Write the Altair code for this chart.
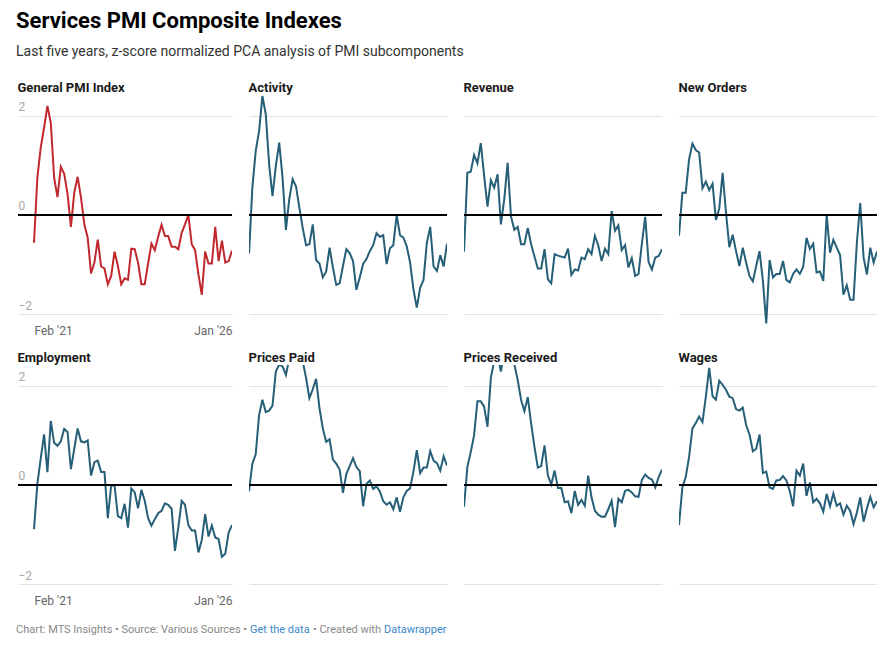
import altair as alt
import pandas as pd

# ---------------- data ----------------
x_tick_values = [0, 59]
x_tick_labels = ["Feb '21", "Jan '26"]
y_tick_values = [-2, 0, 2]

general_pmi = [-0.56, 0.75, 1.36, 1.76, 2.2, 1.86, 0.75, 0.36, 0.97, 0.83,
               0.42, -0.24, 0.45, 0.77, 0.35, -0.19, -0.46, -1.18, -0.96, -0.5,
               -1.04, -1.08, -1.4, -1.23, -0.74, -1.03, -1.4, -1.28, -1.31, -0.68,
               -0.69, -0.96, -1.4, -1.4, -0.98, -0.58, -0.71, -0.44, -0.2, -0.42,
               -0.43, -0.64, -0.64, -0.69, -0.36, -0.19, 0.0, -0.59, -0.71, -1.2,
               -1.61, -0.74, -0.98, -0.98, -0.24, -0.93, -0.52, -0.96, -0.93, -0.72]

activity = [-0.78, 0.55, 1.29, 1.69, 2.4, 2.03, 1.02, 0.38, 0.99, 1.46,
            0.75, -0.3, 0.32, 0.72, 0.58, 0.15, -0.26, -0.61, -0.59, -0.19,
            -0.91, -0.98, -1.26, -1.14, -0.66, -1.06, -1.41, -1.38, -1.03, -0.69,
            -0.77, -0.93, -1.51, -1.26, -0.99, -0.89, -0.73, -0.61, -0.37, -0.44,
            -0.41, -0.99, -0.67, -0.61, 0.0, -0.41, -0.46, -0.63, -0.96, -1.5,
            -1.87, -1.47, -1.31, -0.56, -0.24, -1.04, -1.13, -0.81, -1.04, -0.58]

revenue = [-0.74, 0.85, 0.87, 1.21, 1.04, 1.45, 0.79, 0.17, 0.7, 0.55,
           0.82, -0.19, 0.32, 1.05, -0.03, -0.3, -0.24, -0.59, -0.59, -0.26,
           -0.59, -0.84, -1.08, -1.08, -0.69, -1.3, -1.38, -0.79, -0.82, -0.84,
           -0.86, -0.68, -1.21, -1.1, -1.12, -0.86, -0.89, -0.69, -0.79, -0.42,
           -0.61, -0.93, -0.68, -0.79, 0.08, -0.32, -0.21, -0.71, -0.61, -1.06,
           -0.87, -1.23, -1.19, -0.58, -0.04, -0.95, -1.1, -0.86, -0.83, -0.69]

new_orders = [-0.42, 0.45, 0.45, 1.12, 1.44, 1.31, 1.26, 0.54, 0.67, 0.5,
              0.63, -0.1, 0.13, 0.85, 0.05, -0.65, -0.4, -0.73, -1.03, -0.66,
              -0.96, -1.23, -1.34, -1.03, -0.73, -1.33, -2.19, -0.91, -1.26, -1.19,
              -1.19, -0.93, -1.31, -1.36, -1.19, -1.1, -1.19, -1.05, -0.46, -0.69,
              -0.58, -1.16, -1.14, -1.33, 0.01, -0.76, -0.5, -0.66, -0.81, -1.61,
              -1.42, -1.71, -1.71, -0.56, 0.24, -0.86, -1.2, -0.66, -0.96, -0.74]

employment = [-0.89, 0.02, 0.53, 1.02, 0.26, 1.29, 0.85, 0.79, 0.88, 1.13,
              1.07, 0.32, 0.73, 1.14, 0.88, 0.86, 0.9, 0.19, 0.46, 0.49,
              0.26, 0.26, -0.67, -0.01, -0.01, -0.63, -0.67, -0.38, -0.86, -0.07,
              -0.15, -0.47, -0.1, -0.32, -0.67, -0.82, -0.69, -0.57, -0.52, -0.37,
              -0.4, -0.48, -1.33, -0.86, -0.32, -0.4, -0.81, -0.92, -0.92, -1.36,
              -1.11, -0.59, -1.04, -0.82, -1.06, -1.09, -1.45, -1.39, -0.96, -0.81]

prices_paid = [-0.13, 0.43, 0.62, 1.41, 1.72, 1.47, 1.5, 1.6, 2.29, 2.43,
               2.39, 2.22, 2.55, 2.7, 2.75, 2.65, 2.5, 2.16, 1.75, 1.93,
               2.14, 1.55, 1.14, 0.87, 0.92, 0.51, 0.43, 0.31, -0.16, 0.22,
               0.38, 0.54, 0.36, 0.28, -0.43, 0.02, 0.09, -0.08, -0.03, -0.13,
               -0.33, -0.4, -0.35, -0.49, -0.25, -0.54, -0.25, -0.12, -0.07, 0.27,
               0.7, 0.24, 0.35, 0.35, 0.68, 0.49, 0.44, 0.29, 0.58, 0.39]

prices_received = [-0.44, 0.36, 0.66, 1.0, 1.69, 1.69, 1.58, 1.17, 2.16, 2.5,
                   2.6, 2.29, 2.7, 2.9, 2.75, 2.43, 2.12, 1.72, 1.49, 1.77,
                   1.24, 0.77, 0.35, 0.38, 0.8, 0.19, 0.01, 0.29, -0.06, -0.06,
                   -0.35, -0.33, -0.57, -0.12, -0.4, -0.3, -0.42, 0.19, -0.25, -0.52,
                   -0.6, -0.64, -0.64, -0.49, -0.32, -0.85, -0.28, -0.35, -0.12, -0.1,
                   -0.15, -0.23, -0.24, 0.1, 0.21, 0.14, 0.11, -0.05, 0.16, 0.31]

wages = [-0.81, -0.05, 0.16, 0.56, 1.14, 1.25, 1.38, 1.27, 1.78, 2.36,
         1.79, 1.72, 2.1, 2.02, 1.92, 1.78, 1.75, 1.53, 1.5, 1.56,
         1.21, 1.02, 0.68, 0.73, 1.02, 0.24, 0.27, -0.05, -0.08, 0.09,
         0.1, 0.18, 0.09, -0.12, -0.43, 0.29, 0.19, 0.43, -0.22, 0.05,
         -0.35, -0.28, -0.37, -0.54, -0.18, -0.43, -0.17, -0.42, -0.37, -0.6,
         -0.42, -0.52, -0.79, -0.56, -0.25, -0.74, -0.47, -0.24, -0.45, -0.33]

panel_titles = ["General PMI Index", "Activity", "Revenue", "New Orders",
                "Employment", "Prices Paid", "Prices Received", "Wages"]
panel_values = [general_pmi, activity, revenue, new_orders,
                employment, prices_paid, prices_received, wages]

RED = "#c0282d"
TEAL = "#255f78"
panel_colors = [RED] + [TEAL] * 7

FONT = "Roboto"
PLOT_W = 198
EXTRA_W = 16
PLOT_H = 229
Y_DOMAIN = [-2.2, 2.42]
n_pts = len(general_pmi)
x_step_px = PLOT_W / (n_pts - 1)
x_extra = EXTRA_W / x_step_px


def make_panel(title, values, color, first_col):
    df = pd.DataFrame({"i": list(range(len(values))), "v": values})
    if first_col:
        width = PLOT_W + EXTRA_W
        xdom = [-x_extra, n_pts - 1]
        label_expr = (f"datum.value == {x_tick_values[0]} ? \"{x_tick_labels[0]}\" : "
                      f"\"{x_tick_labels[1]}\"")
        xaxis = alt.Axis(values=x_tick_values, labelExpr=label_expr, grid=False,
                         domain=False, ticks=False, tickSize=0, title=None,
                         labelPadding=1, labelFontSize=12, labelColor="#666666",
                         labelFont=FONT,
                         labelAlign={"condition": {"test": f"datum.value == {x_tick_values[0]}",
                                                   "value": "left"},
                                     "value": "right"})
        yaxis = alt.Axis(values=y_tick_values, grid=True, gridColor="#e3e3e3",
                         domain=False, ticks=False, tickSize=0, title=None,
                         labelAlign="left", labelBaseline="bottom", labelPadding=0,
                         labelOffset=-2, labelFontSize=12, labelColor="#a8a8a8",
                         labelFont=FONT,
                         labelExpr="datum.value < 0 ? '\u2212' + abs(datum.value) : datum.label")
    else:
        width = PLOT_W
        xdom = [0, n_pts - 1]
        xaxis = None
        yaxis = alt.Axis(values=y_tick_values, grid=True, gridColor="#e3e3e3",
                         domain=False, ticks=False, tickSize=0, labels=False, title=None)
    base = alt.Chart(df)
    zero = base.mark_rule(color="#000000", strokeWidth=1).encode(y=alt.datum(0))
    line = base.mark_line(color=color, strokeWidth=2, clip=True).encode(
        x=alt.X("i:Q", scale=alt.Scale(domain=xdom, nice=False, zero=False), axis=xaxis),
        y=alt.Y("v:Q", scale=alt.Scale(domain=Y_DOMAIN, nice=False, zero=False), axis=yaxis),
    )
    return alt.layer(line, zero).properties(
        width=width, height=PLOT_H,
        title=alt.TitleParams(title, anchor="start", fontSize=13, fontWeight="bold",
                              color="#1a1a1a", font=FONT, offset=0),
    )


panels = [make_panel(t, v, c, k % 4 == 0)
          for k, (t, v, c) in enumerate(zip(panel_titles, panel_values, panel_colors))]
row1 = alt.hconcat(*panels[:4], spacing=15)
row2 = alt.hconcat(*panels[4:], spacing=15)

# footer
footer_parts = ["Chart: MTS Insights \u2022 Source: Various Sources \u2022", "Get the data",
                "\u2022 Created with", "Datawrapper"]
footer_colors = ["#888888", "#3a87c8", "#888888", "#3a87c8"]
footer_px = [-2, 232, 295, 366]
fdf = pd.DataFrame({"t": [""]})
footer_layers = [
    alt.Chart(fdf).mark_text(text=txt, color=col, align="left", baseline="middle",
                             fontSize=11, font=FONT).encode(x=alt.value(px), y=alt.value(8))
    for txt, col, px in zip(footer_parts, footer_colors, footer_px)
]
footer = alt.layer(*footer_layers).properties(width=460, height=18)

chart = alt.vconcat(row1, row2, footer, spacing=16).properties(
    title=alt.TitleParams(
        "Services PMI Composite Indexes",
        subtitle="Last five years, z-score normalized PCA analysis of PMI subcomponents",
        anchor="start", fontSize=22, fontWeight="bold", color="#000000", font=FONT,
        subtitleFontSize=14, subtitleColor="#333333", subtitleFont=FONT,
        subtitlePadding=12, offset=22,
    ),
    padding={"left": 8, "top": 2, "right": 5, "bottom": 5},
).configure(font=FONT, view=alt.ViewConfig(stroke="transparent", strokeWidth=0))

chart.save("out.html", embed_options={"renderer": "svg", "actions": False})
